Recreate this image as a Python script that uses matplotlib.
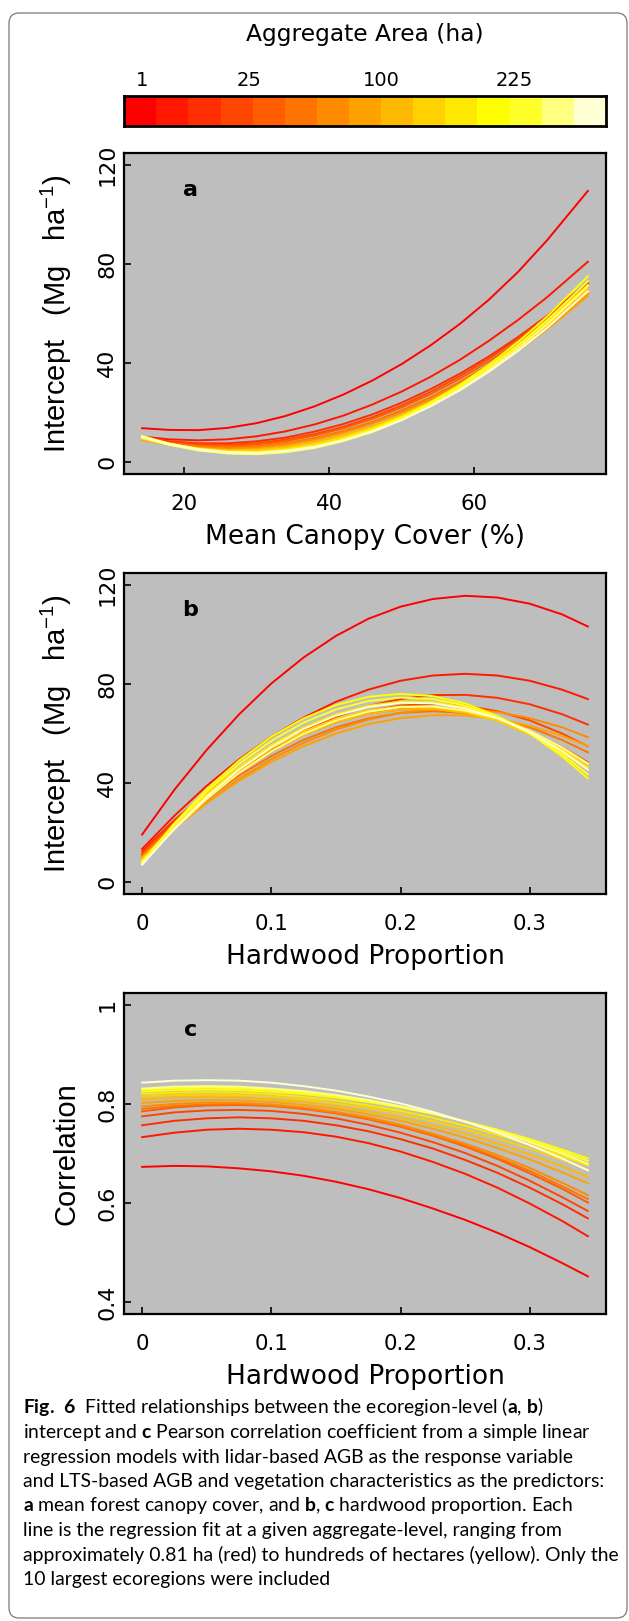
import matplotlib
matplotlib.use("Agg")
import matplotlib.pyplot as plt
import matplotlib.transforms as mtransforms
from matplotlib.patches import FancyBboxPatch
import numpy as np

plt.rcParams['font.family'] = 'DejaVu Sans'
plt.rcParams['mathtext.fontset'] = 'custom'
plt.rcParams['mathtext.bf'] = 'Lato:bold'
plt.rcParams['mathtext.default'] = 'regular'

# aggregate levels, smallest (red) to largest (pale yellow)
level_colors = ['#FF0000', '#FF1700', '#FF2E00', '#FF4600', '#FF5D00', '#FF7400', '#FF8B00',
                '#FFA200', '#FFB900', '#FFD100', '#FFE800', '#FFFF00', '#FFFF2A', '#FFFF80', '#FFFFD5']
legend_ticks = [1, 5, 10, 15]            # side length of the aggregate cell
legend_labels = ['1', '25', '100', '225']

# panel a: intercept vs mean canopy cover
canopy_x = [14.3, 18, 22, 26, 30, 34, 38, 42, 46, 50, 54, 58, 62, 66, 70, 75.6]
canopy_intercept = [
    [13.7, 13.0, 12.9, 13.8, 15.7, 18.6, 22.5, 27.3, 33.0, 39.6, 47.2, 55.8, 65.6, 76.8, 89.6, 109.5],
    [10.3, 9.2, 8.8, 9.2, 10.4, 12.4, 15.2, 18.8, 23.3, 28.5, 34.5, 41.3, 49.0, 57.4, 66.6, 80.9],
    [9.8, 8.4, 7.6, 7.6, 8.4, 9.9, 12.3, 15.4, 19.3, 24.0, 29.5, 35.7, 42.7, 50.5, 59.1, 72.5],
    [9.9, 8.2, 7.2, 7.0, 7.6, 9.1, 11.3, 14.3, 18.2, 22.9, 28.4, 34.7, 41.8, 49.7, 58.4, 72.0],
    [9.4, 7.7, 6.7, 6.5, 7.1, 8.5, 10.7, 13.7, 17.5, 22.1, 27.5, 33.7, 40.7, 48.5, 57.1, 70.5],
    [9.5, 7.7, 6.4, 6.0, 6.4, 7.7, 9.7, 12.6, 16.3, 20.9, 26.2, 32.4, 39.4, 47.3, 56.0, 69.5],
    [9.0, 7.1, 5.9, 5.5, 5.9, 7.1, 9.2, 12.0, 15.7, 20.1, 25.4, 31.5, 38.4, 46.1, 54.7, 68.0],
    [9.2, 7.1, 5.7, 5.0, 5.2, 6.3, 8.2, 10.9, 14.5, 18.9, 24.2, 30.3, 37.2, 45.0, 53.6, 67.1],
    [9.2, 7.0, 5.5, 4.8, 5.0, 6.1, 8.1, 10.9, 14.6, 19.1, 24.5, 30.8, 37.9, 45.9, 54.7, 68.6],
    [9.9, 7.4, 5.5, 4.6, 4.6, 5.5, 7.4, 10.2, 13.9, 18.5, 24.0, 30.5, 37.9, 46.2, 55.5, 70.0],
    [9.6, 7.0, 5.1, 4.1, 4.1, 5.1, 7.0, 9.8, 13.7, 18.4, 24.1, 30.8, 38.5, 47.0, 56.6, 71.5],
    [10.6, 7.5, 5.1, 3.8, 3.5, 4.3, 6.2, 9.1, 13.0, 18.0, 24.1, 31.2, 39.3, 48.5, 58.8, 75.0],
    [10.2, 7.2, 4.9, 3.6, 3.3, 4.1, 5.9, 8.7, 12.6, 17.5, 23.4, 30.3, 38.3, 47.2, 57.3, 73.0],
    [9.9, 7.0, 4.7, 3.5, 3.2, 4.0, 5.7, 8.5, 12.2, 17.0, 22.7, 29.4, 37.2, 45.9, 55.7, 71.0],
    [10.3, 7.4, 5.3, 4.1, 3.8, 4.6, 6.2, 8.9, 12.5, 17.0, 22.6, 29.0, 36.5, 44.9, 54.2, 69.0],
]

# panels b and c: hardwood proportion
hardwood_x = [0, 0.025, 0.05, 0.075, 0.1, 0.125, 0.15, 0.175, 0.2, 0.225, 0.25, 0.275, 0.3, 0.325, 0.345]
hardwood_intercept = [
    [19.2, 37.3, 53.4, 67.7, 80.2, 90.7, 99.4, 106.3, 111.2, 114.3, 115.6, 114.9, 112.4, 108.1, 103.2],
    [13.4, 26.8, 38.9, 49.5, 58.7, 66.4, 72.8, 77.7, 81.3, 83.4, 84.1, 83.4, 81.3, 77.7, 73.9],
    [12.5, 25.0, 36.1, 45.8, 54.2, 61.2, 66.8, 71.1, 73.9, 75.5, 75.6, 74.4, 71.8, 67.8, 63.6],
    [11.5, 24.2, 35.4, 45.1, 53.3, 60.0, 65.3, 69.0, 71.3, 72.0, 71.3, 69.0, 65.3, 60.0, 54.8],
    [11.0, 23.9, 35.2, 45.0, 53.1, 59.7, 64.6, 68.0, 69.7, 69.9, 68.4, 65.4, 60.8, 54.5, 48.4],
    [10.5, 22.8, 33.6, 43.0, 50.9, 57.4, 62.5, 66.1, 68.3, 69.0, 68.3, 66.1, 62.5, 57.4, 52.4],
    [10.0, 21.8, 32.4, 41.6, 49.6, 56.2, 61.6, 65.6, 68.3, 69.8, 69.9, 68.7, 66.2, 62.5, 58.5],
    [10.0, 21.6, 31.9, 40.9, 48.5, 54.9, 60.0, 63.8, 66.2, 67.4, 67.3, 65.8, 63.1, 59.1, 54.9],
    [9.5, 22.7, 34.4, 44.3, 52.7, 59.4, 64.5, 67.9, 69.7, 69.9, 68.4, 65.3, 60.5, 54.2, 47.9],
    [9.0, 22.9, 35.0, 45.4, 54.0, 60.8, 65.9, 69.3, 70.9, 70.7, 68.8, 65.1, 59.6, 52.4, 45.4],
    [8.5, 22.9, 35.5, 46.3, 55.3, 62.4, 67.7, 71.2, 72.9, 72.7, 70.7, 66.8, 61.1, 53.6, 46.3],
    [8.0, 23.8, 37.5, 49.1, 58.7, 66.1, 71.5, 74.8, 76.0, 75.1, 72.2, 67.1, 60.0, 50.8, 41.9],
    [8.0, 23.2, 36.5, 47.7, 57.0, 64.4, 69.7, 73.1, 74.5, 73.9, 71.3, 66.7, 60.2, 51.7, 43.5],
    [7.5, 21.4, 33.6, 44.1, 52.8, 59.9, 65.2, 68.8, 70.7, 70.9, 69.3, 66.1, 61.1, 54.4, 47.8],
    [7.0, 21.7, 34.5, 45.4, 54.5, 61.8, 67.2, 70.7, 72.4, 72.2, 70.1, 66.2, 60.5, 52.9, 45.4],
]
hardwood_corr = [
    [.673, .675, .674, .670, .664, .655, .643, .628, .610, .589, .566, .540, .511, .479, .452],
    [.733, .742, .748, .750, .748, .743, .734, .721, .704, .683, .659, .631, .599, .564, .533],
    [.757, .766, .771, .773, .771, .766, .757, .745, .729, .710, .687, .661, .631, .598, .569],
    [.775, .783, .787, .788, .786, .780, .771, .758, .742, .723, .701, .675, .645, .612, .584],
    [.785, .793, .797, .798, .796, .790, .781, .769, .754, .736, .714, .689, .660, .629, .601],
    [.790, .796, .799, .800, .797, .791, .782, .770, .755, .737, .716, .692, .665, .634, .608],
    [.795, .800, .803, .802, .799, .793, .784, .773, .758, .740, .720, .697, .671, .641, .616],
    [.802, .806, .808, .807, .804, .798, .790, .779, .766, .750, .732, .711, .688, .662, .640],
    [.809, .813, .814, .813, .809, .804, .795, .785, .772, .757, .740, .720, .698, .674, .653],
    [.815, .818, .819, .818, .815, .809, .801, .792, .780, .765, .749, .730, .710, .687, .667],
    [.820, .823, .824, .823, .820, .814, .807, .797, .786, .772, .756, .738, .718, .695, .676],
    [.825, .828, .829, .828, .825, .820, .813, .804, .793, .780, .765, .748, .729, .708, .690],
    [.829, .832, .833, .832, .829, .823, .816, .806, .795, .781, .765, .747, .727, .704, .685],
    [.831, .835, .836, .835, .831, .826, .818, .808, .795, .781, .764, .745, .723, .700, .679],
    [.843, .847, .848, .847, .843, .836, .827, .815, .801, .784, .764, .742, .717, .690, .666],
]

canopy_ticks = [20, 40, 60]
hardwood_ticks = [0, 0.1, 0.2, 0.3]
hardwood_ticklabels = ['0', '0.1', '0.2', '0.3']
intercept_ticks = [0, 40, 80, 120]
corr_ticks = [0.4, 0.6, 0.8, 1.0]
corr_ticklabels = ['0.4', '0.6', '0.8', '1']

caption_lines = [
    r"$\mathbf{Fig.\ 6}$  Fitted relationships between the ecoregion-level ($\mathbf{a}$, $\mathbf{b}$)",
    r"intercept and $\mathbf{c}$ Pearson correlation coefficient from a simple linear",
    "regression models with lidar-based AGB as the response variable",
    "and LTS-based AGB and vegetation characteristics as the predictors:",
    r"$\mathbf{a}$ mean forest canopy cover, and $\mathbf{b}$, $\mathbf{c}$ hardwood proportion. Each",
    "line is the regression fit at a given aggregate-level, ranging from",
    "approximately 0.81 ha (red) to hundreds of hectares (yellow). Only the",
    "10 largest ecoregions were included",
]

W, H = 629.0, 1621.0
fig = plt.figure(figsize=(W / 100, H / 100), dpi=100)


def fx(px):
    return px / W


def fy(py):
    return 1 - py / H


def r_range(lo, hi):
    # R style 4% axis extension
    d = 0.04 * (hi - lo)
    return lo - d, hi + d


AX_L, AX_R, AX_H = 124.3, 605.7, 321.0

# outer frame
frame = FancyBboxPatch((fx(9), fy(1618)), fx(627) - fx(9), fy(13) - fy(1618),
                       boxstyle="round,pad=0,rounding_size=0.016", transform=fig.transFigure,
                       facecolor='none', edgecolor='#7a7a7a', linewidth=0.9,
                       mutation_aspect=W / H)
fig.patches.append(frame)

# colour legend
cax = fig.add_axes([fx(AX_L), fy(125.5), fx(AX_R) - fx(AX_L), 29.5 / H])
edges = np.linspace(0.32, 18.42, len(level_colors) + 1)
cax.bar(edges[:-1], 1, width=np.diff(edges), align='edge', color=level_colors, linewidth=0)
cax.set_xlim(edges[0], edges[-1])
cax.set_ylim(0, 1)
cax.set_xticks([])
cax.set_yticks([])
for sp in cax.spines.values():
    sp.set_linewidth(2)
trans = mtransforms.blended_transform_factory(cax.transData, cax.transAxes)
for t, lab in zip(legend_ticks, legend_labels):
    cax.text(t, 1 + 10 / 29.5, lab, transform=trans, ha='center', va='baseline', fontsize=14)
fig.text(fx(365), fy(41), 'Aggregate Area (ha)', ha='center', va='baseline', fontsize=16.8)


def panel(top, xs, curves, xticks, xticklabels, yticks, yticklabels, ylim,
          xlabel, ylabel, ylabel_x, letter):
    ax = fig.add_axes([fx(AX_L), fy(top + AX_H), fx(AX_R) - fx(AX_L), AX_H / H])
    ax.set_facecolor('#BEBEBE')
    for ys, col in zip(curves, level_colors):
        ax.plot(xs, ys, color=col, lw=1.4)
    ax.set_xlim(*r_range(min(xs), max(xs)))
    ax.set_ylim(*r_range(*ylim))
    ax.set_xticks(xticks, xticklabels)
    ax.set_yticks(yticks, yticklabels)
    ax.tick_params(direction='in', length=5, width=1.2, top=False, right=False)
    ax.tick_params(axis='x', pad=14.7, labelsize=15.4)
    ax.tick_params(axis='y', pad=5.0, labelsize=16, labelrotation=90)
    for lab in ax.get_yticklabels():
        lab.set_va('center')
    for sp in ax.spines.values():
        sp.set_linewidth(1.6)
    ax.set_xlabel(xlabel, fontsize=19, va='baseline')
    ax.xaxis.set_label_coords(0.5, -70 / AX_H)
    ax.set_ylabel(ylabel, fontsize=21, family='Liberation Sans', va='baseline')
    ax.yaxis.set_label_coords(ylabel_x, 0.5)
    ax.text(0.137, 0.866, letter, transform=ax.transAxes, fontsize=16,
            fontweight='bold', ha='center', va='baseline')
    return ax


intercept_label = 'Intercept   (Mg   ha$^{-1}$)'
panel(153, canopy_x, canopy_intercept, canopy_ticks, [str(t) for t in canopy_ticks],
      intercept_ticks, [str(t) for t in intercept_ticks], (0, 120),
      'Mean Canopy Cover (%)', intercept_label, (66 - AX_L) / (AX_R - AX_L), 'a')
panel(573, hardwood_x, hardwood_intercept, hardwood_ticks, hardwood_ticklabels,
      intercept_ticks, [str(t) for t in intercept_ticks], (0, 120),
      'Hardwood Proportion', intercept_label, (66 - AX_L) / (AX_R - AX_L), 'b')
panel(993, hardwood_x, hardwood_corr, hardwood_ticks, hardwood_ticklabels,
      corr_ticks, corr_ticklabels, (0.4, 1.0),
      'Hardwood Proportion', 'Correlation', (74 - AX_L) / (AX_R - AX_L), 'c')

# caption
cap_texts = []
for i, line in enumerate(caption_lines):
    cap_texts.append(fig.text(fx(23), fy(1413.5 + 24.5 * i), line, ha='left', va='baseline',
                              fontsize=12, family='Lato'))
renderer = fig.canvas.get_renderer()
w = cap_texts[6].get_window_extent(renderer).width
size = 12 * 593.0 / w
for t in cap_texts:
    t.set_fontsize(size)

fig.savefig('out.png', dpi=100, facecolor='white')
